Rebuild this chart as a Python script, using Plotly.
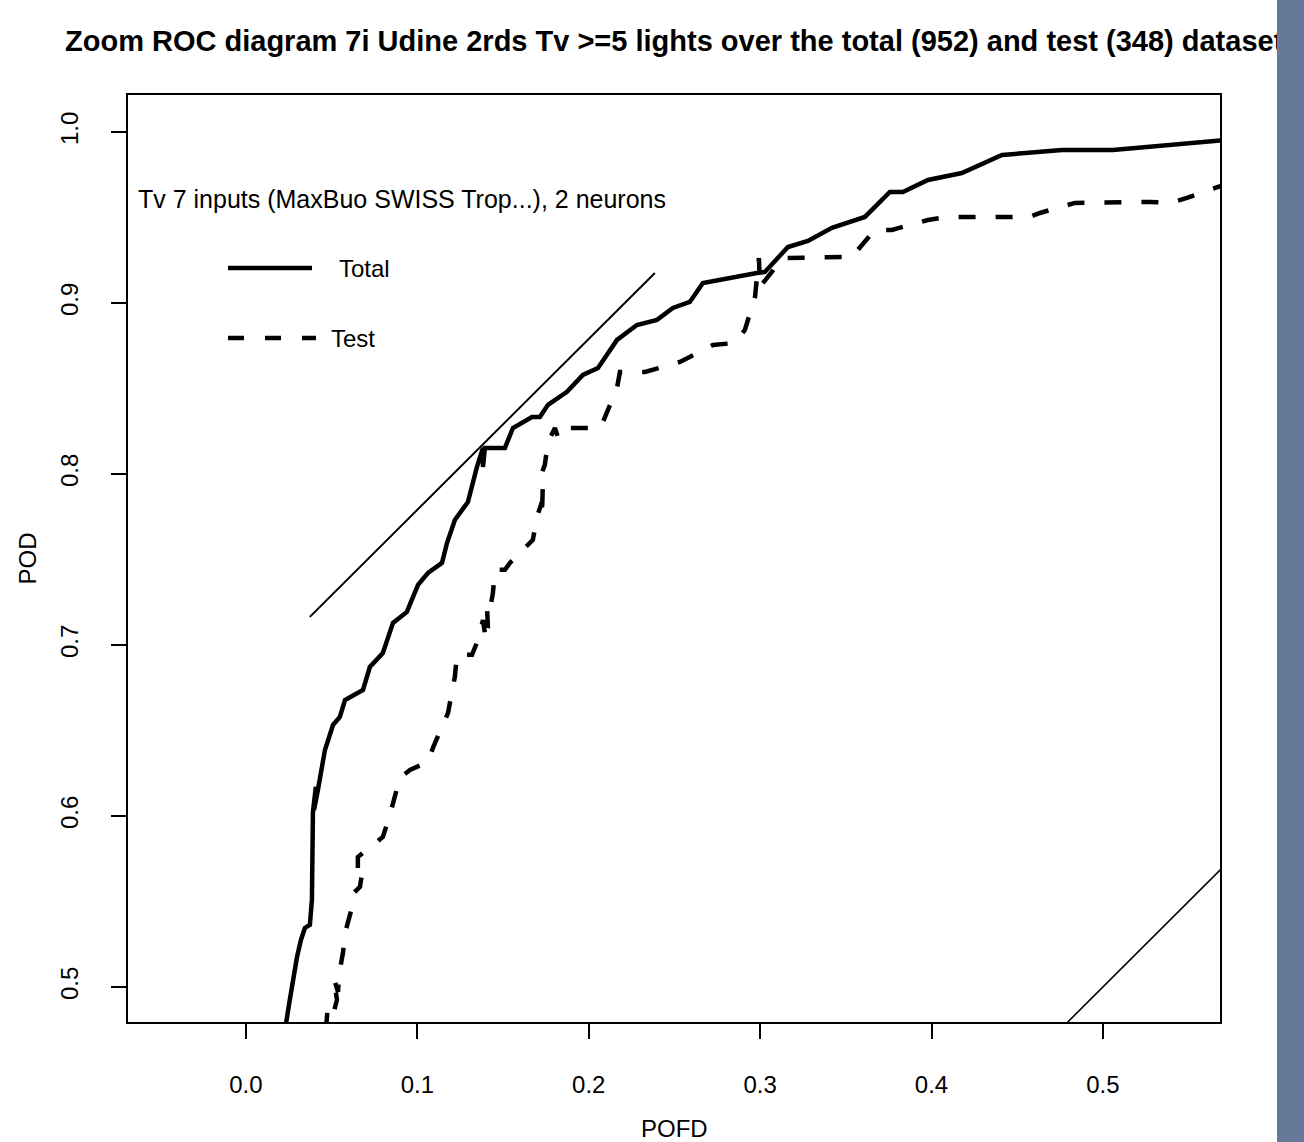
import plotly.graph_objects as go

# ---------------- data ----------------
total_pofd = [0.0210, 0.0233, 0.0251, 0.0298, 0.0321, 0.0344, 0.0373, 0.0385, 0.0385, 0.0391,
              0.0408, 0.0397, 0.0420, 0.0461, 0.0508, 0.0548, 0.0578, 0.0683, 0.0723, 0.0799,
              0.0858, 0.0939, 0.1004, 0.1062, 0.1144, 0.1173, 0.1219, 0.1295, 0.1348, 0.1383,
              0.1383, 0.1394, 0.1511, 0.1558, 0.1669, 0.1715, 0.1762, 0.1873, 0.1966, 0.2054,
              0.2165, 0.2281, 0.2398, 0.2491, 0.2590, 0.2666, 0.2981, 0.3028, 0.3162, 0.3279,
              0.3419, 0.3611, 0.3757, 0.3833, 0.3979, 0.4177, 0.4411, 0.4761, 0.5058, 0.5671,
              0.5916]
total_pod = [0.4632, 0.4795, 0.4895, 0.5175, 0.5275, 0.5345, 0.5363, 0.5509, 0.5860, 0.6023,
             0.6170, 0.6035, 0.6152, 0.6386, 0.6532, 0.6579, 0.6678, 0.6737, 0.6871, 0.6953,
             0.7129, 0.7193, 0.7351, 0.7421, 0.7480, 0.7596, 0.7731, 0.7836, 0.8041, 0.8152,
             0.8041, 0.8152, 0.8152, 0.8269, 0.8333, 0.8333, 0.8404, 0.8480, 0.8579, 0.8620,
             0.8784, 0.8871, 0.8901, 0.8971, 0.9006, 0.9117, 0.9175, 0.9181, 0.9327, 0.9363,
             0.9439, 0.9503, 0.9649, 0.9649, 0.9719, 0.9760, 0.9865, 0.9895, 0.9895, 0.9953,
             0.9971]

test_pofd = [0.0467, 0.0478, 0.0513, 0.0531, 0.0513, 0.0537, 0.0543, 0.0566, 0.0583, 0.0618,
             0.0630, 0.0665, 0.0683, 0.0653, 0.0653, 0.0741, 0.0799, 0.0840, 0.0863, 0.0898,
             0.0957, 0.1062, 0.1091, 0.1144, 0.1179, 0.1202, 0.1219, 0.1231, 0.1319, 0.1354,
             0.1383, 0.1400, 0.1412, 0.1406, 0.1424, 0.1441, 0.1453, 0.1511, 0.1540, 0.1674,
             0.1698, 0.1727, 0.1727, 0.1733, 0.1715, 0.1744, 0.1762, 0.1803, 0.1820, 0.1844,
             0.2065, 0.2083, 0.2165, 0.2182, 0.2328, 0.2532, 0.2725, 0.2853, 0.2911, 0.2970,
             0.2993, 0.2999, 0.3133, 0.3407, 0.3536, 0.3594, 0.3670, 0.3769, 0.3979, 0.4096,
             0.4574, 0.4632, 0.4837, 0.5274, 0.5391, 0.5490, 0.5671, 0.5916]
test_pod = [0.4749, 0.4895, 0.4854, 0.4924, 0.5053, 0.4971, 0.5070, 0.5199, 0.5333, 0.5462,
            0.5550, 0.5585, 0.5696, 0.5673, 0.5760, 0.5830, 0.5877, 0.6006, 0.6094, 0.6222,
            0.6269, 0.6316, 0.6398, 0.6520, 0.6602, 0.6725, 0.6813, 0.6942, 0.6942, 0.7029,
            0.7146, 0.7029, 0.7099, 0.7234, 0.7205, 0.7304, 0.7439, 0.7439, 0.7480, 0.7614,
            0.7749, 0.7836, 0.7749, 0.7965, 0.7977, 0.8053, 0.8187, 0.8269, 0.8216, 0.8269,
            0.8269, 0.8304, 0.8503, 0.8596, 0.8596, 0.8655, 0.8754, 0.8766, 0.8842, 0.9035,
            0.9263, 0.9094, 0.9263, 0.9263, 0.9269, 0.9339, 0.9427, 0.9427, 0.9485, 0.9503,
            0.9503, 0.9526, 0.9585, 0.9591, 0.9585, 0.9614, 0.9678, 0.9749]

tangent_pofd = [0.0373, 0.2386]
tangent_pod = [0.7164, 0.9175]

diag_pofd = [0.0, 1.0]
diag_pod = [0.0, 1.0]

x_ticks = [0.0, 0.1, 0.2, 0.3, 0.4, 0.5]
x_tick_labels = ["0.0", "0.1", "0.2", "0.3", "0.4", "0.5"]
y_ticks = [0.5, 0.6, 0.7, 0.8, 0.9, 1.0]
y_tick_labels = ["0.5", "0.6", "0.7", "0.8", "0.9", "1.0"]

title_text = "Zoom ROC diagram 7i Udine 2rds Tv >=5 lights over the total (952) and test (348) dataset"
note_text = "Tv 7 inputs (MaxBuo SWISS Trop...), 2 neurons"
legend_names = ["Total", "Test"]

# ---------------- figure ----------------
FONT = "Liberation Sans, Arial, sans-serif"
FS = 24

fig = go.Figure()
fig.add_trace(go.Scatter(x=total_pofd, y=total_pod, mode="lines",
                         line=dict(color="black", width=4.5), name=legend_names[0]))
fig.add_trace(go.Scatter(x=test_pofd, y=test_pod, mode="lines",
                         line=dict(color="black", width=4.5, dash="17px,20px"), name=legend_names[1]))
fig.add_trace(go.Scatter(x=tangent_pofd, y=tangent_pod, mode="lines",
                         line=dict(color="black", width=2)))
fig.add_trace(go.Scatter(x=diag_pofd, y=diag_pod, mode="lines",
                         line=dict(color="black", width=1.6)))

L, R, T, B = 128, 84, 95, 120
W, H = 1304, 1142
pw, ph = W - L - R, H - T - B


def px(x):
    return (x - L) / pw


def py(y):
    return (H - B - y) / ph


annotations = [
    dict(text="<b>" + title_text + "</b>", x=0.5, y=py(41), xref="paper", yref="paper",
         xanchor="center", yanchor="middle", showarrow=False,
         font=dict(family=FONT, size=29, color="black")),
    dict(text=note_text, x=px(136), y=py(199), xref="paper", yref="paper",
         xanchor="left", yanchor="middle", showarrow=False,
         font=dict(family=FONT, size=25, color="black")),
    dict(text=legend_names[0], x=px(337), y=py(268), xref="paper", yref="paper",
         xanchor="left", yanchor="middle", showarrow=False,
         font=dict(family=FONT, size=FS, color="black")),
    dict(text=legend_names[1], x=px(329), y=py(338), xref="paper", yref="paper",
         xanchor="left", yanchor="middle", showarrow=False,
         font=dict(family=FONT, size=FS, color="black")),
    dict(text="POFD", x=0.5, y=py(1128), xref="paper", yref="paper",
         xanchor="center", yanchor="middle", showarrow=False,
         font=dict(family=FONT, size=FS, color="black")),
    dict(text="POD", x=px(27), y=0.5, xref="paper", yref="paper",
         xanchor="center", yanchor="middle", showarrow=False, textangle=-90,
         font=dict(family=FONT, size=FS, color="black")),
    # slate bar at the right edge, drawn last so it sits over the title
    dict(text="\u00a0", x=px(1277), y=py(0), xref="paper", yref="paper",
         xanchor="left", yanchor="top", showarrow=False, width=27, height=H,
         bgcolor="rgb(103,121,153)", borderpad=0, borderwidth=0,
         font=dict(size=2)),
]

shapes = [
    dict(type="line", xref="paper", yref="paper", x0=px(228), x1=px(312), y0=py(268), y1=py(268),
         line=dict(color="black", width=4.5)),
    dict(type="line", xref="paper", yref="paper", x0=px(228), x1=px(316), y0=py(338), y1=py(338),
         line=dict(color="black", width=4.5, dash="16px,21px")),
]

fig.update_layout(
    width=W, height=H,
    margin=dict(l=L, r=R, t=T, b=B, pad=0),
    paper_bgcolor="white", plot_bgcolor="white",
    showlegend=False,
    font=dict(family=FONT, size=FS, color="black"),
    annotations=annotations,
    shapes=shapes,
    xaxis=dict(range=[-0.0688, 0.5683], tickvals=x_ticks, ticktext=x_tick_labels,
               showgrid=False, zeroline=False, showline=True, mirror=True,
               linecolor="black", linewidth=1.5, ticks="outside", ticklen=15,
               tickwidth=1.5, tickcolor="black", ticklabelstandoff=25,
               tickfont=dict(family=FONT, size=FS, color="black")),
    yaxis=dict(range=[0.4795, 1.0216], tickvals=y_ticks, ticktext=y_tick_labels,
               showgrid=False, zeroline=False, showline=True, mirror=True,
               linecolor="black", linewidth=1.5, ticks="outside", ticklen=15,
               tickwidth=1.5, tickcolor="black", tickangle=-90, ticklabelstandoff=24,
               tickfont=dict(family=FONT, size=FS, color="black")),
)

fig.write_html("out.html", config={"displayModeBar": False},
               post_script="document.body.style.margin='0';document.body.style.overflow='hidden';")
